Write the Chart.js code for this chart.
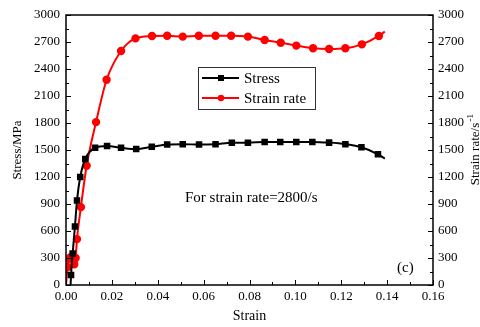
<!DOCTYPE html>
<html>
<head>
<meta charset="utf-8">
<script src="https://cdn.jsdelivr.net/npm/chart.js@4"></script>
<style>
  html, body { margin: 0; padding: 0; background: #fff; }
  #wrap { width: 480px; height: 327px; }
</style>
</head>
<body>
<div id="wrap"><canvas id="chart" width="480" height="327"></canvas></div>
<script>
// stress curve (black squares)
const stressStrain = [0.0020, 0.0022, 0.0029, 0.0039, 0.0048, 0.0062, 0.0084, 0.0127, 0.0179, 0.0240, 0.0306, 0.0374, 0.0441, 0.0509, 0.0580, 0.0652, 0.0723, 0.0793, 0.0866, 0.0934, 0.1004, 0.1074, 0.1147, 0.1218, 0.1288, 0.1360, 0.1390];
const stress = [0, 110, 350, 650, 940, 1200, 1400, 1525, 1545, 1525, 1510, 1535, 1560, 1565, 1560, 1565, 1580, 1580, 1590, 1590, 1590, 1590, 1582, 1565, 1530, 1452, 1405];

// strain rate curve (red circles)
const rateStrain = [0.0000, 0.0007, 0.0012, 0.0020, 0.0029, 0.0036, 0.0042, 0.0048, 0.0065, 0.0090, 0.0131, 0.0177, 0.0240, 0.0303, 0.0375, 0.0441, 0.0509, 0.0579, 0.0652, 0.0720, 0.0793, 0.0866, 0.0936, 0.1004, 0.1077, 0.1147, 0.1218, 0.1290, 0.1364, 0.1390];
const strainRate = [0, 200, 290, 310, 300, 230, 300, 510, 865, 1325, 1810, 2280, 2600, 2740, 2766, 2770, 2760, 2770, 2770, 2770, 2760, 2722, 2692, 2660, 2630, 2622, 2630, 2674, 2767, 2815];

const xTickLabels = ['0.00', '0.02', '0.04', '0.06', '0.08', '0.10', '0.12', '0.14', '0.16'];
const xStep = 0.02;
const yStep = 300;

const FONT = "'Liberation Serif', 'Times New Roman', serif";

function toPoints(xs, ys) {
  return xs.map((x, i) => ({x: x, y: ys[i]}));
}

// hide marker at the two ends of each curve
function endRadius(n, r) {
  return Array.from({length: n}, (_, i) => (i === 0 || i === n - 1) ? 0 : r);
}

// frame, inward ticks, x tick labels, legend box and texts
const extras = {
  id: 'extras',
  afterDraw(chart) {
    const ctx = chart.ctx;
    const a = chart.chartArea;
    const xs = chart.scales.x, yl = chart.scales.y, yr = chart.scales.y2;
    ctx.save();
    ctx.strokeStyle = '#000';
    ctx.lineWidth = 1.5;
    ctx.strokeRect(a.left, a.top, a.right - a.left, a.bottom - a.top);

    ctx.lineWidth = 1;
    ctx.beginPath();
    for (let k = 0; k <= 16; k++) {
      const px = Math.round(xs.getPixelForValue(k * xStep / 2)) + 0.5;
      ctx.moveTo(px, a.bottom);
      ctx.lineTo(px, a.bottom - (k % 2 === 0 ? 5 : 3));
    }
    for (let k = 0; k <= 20; k++) {
      const v = k * yStep / 2;
      const len = k % 2 === 0 ? 5 : 3;
      const py = Math.round(yl.getPixelForValue(v)) + 0.5;
      ctx.moveTo(a.left, py);
      ctx.lineTo(a.left + len, py);
      const pr = Math.round(yr.getPixelForValue(v)) + 0.5;
      ctx.moveTo(a.right, pr);
      ctx.lineTo(a.right - len, pr);
    }
    ctx.stroke();

    // x tick labels with two decimals
    ctx.fillStyle = '#000';
    ctx.font = '13px ' + FONT;
    ctx.textAlign = 'center';
    ctx.textBaseline = 'middle';
    xTickLabels.forEach((t, i) => {
      ctx.fillText(t, xs.getPixelForValue(i * xStep), a.bottom + 12);
    });

    // legend
    const lx = 198, ly = 67, lw = 117, lh = 42;
    ctx.lineWidth = 1;
    ctx.strokeStyle = '#333';
    ctx.strokeRect(lx + 0.5, ly + 0.5, lw, lh);
    chart.data.datasets.forEach((ds, i) => {
      const cy = ly + 11 + i * 20;
      ctx.strokeStyle = ds.borderColor;
      ctx.lineWidth = 2;
      ctx.beginPath();
      ctx.moveTo(lx + 4, cy);
      ctx.lineTo(lx + 41, cy);
      ctx.stroke();
      ctx.fillStyle = ds.borderColor;
      if (ds.pointStyle === 'rect') {
        ctx.fillRect(lx + 20, cy - 3, 6, 6);
      } else {
        ctx.beginPath();
        ctx.arc(lx + 23, cy, 3.2, 0, Math.PI * 2);
        ctx.fill();
      }
      ctx.fillStyle = '#000';
      ctx.font = '15px ' + FONT;
      ctx.textBaseline = 'middle';
      ctx.textAlign = 'left';
      ctx.fillText(ds.label, lx + 46, cy + 1);
    });

    ctx.fillStyle = '#000';
    ctx.font = '15px ' + FONT;
    ctx.textAlign = 'left';
    ctx.textBaseline = 'middle';
    ctx.fillText('For strain rate=2800/s', 185, 198);
    ctx.fillText('(c)', 397, 268);

    // right axis title, reading bottom to top
    ctx.save();
    ctx.translate(476, 150);
    ctx.rotate(-Math.PI / 2);
    ctx.font = '13px ' + FONT;
    ctx.textAlign = 'center';
    ctx.textBaseline = 'middle';
    ctx.fillText('Strain rate/s', -4, 0);
    const w = ctx.measureText('Strain rate/s').width;
    ctx.font = '9px ' + FONT;
    ctx.fillText('-1', -4 + w / 2 + 5, -5);
    ctx.restore();
    ctx.restore();
  }
};

const tickFont = {family: FONT, size: 13};

new Chart(document.getElementById('chart'), {
  type: 'scatter',
  data: {
    datasets: [
      {
        label: 'Stress',
        data: toPoints(stressStrain, stress),
        showLine: true,
        borderColor: '#000000',
        backgroundColor: '#000000',
        borderWidth: 2,
        pointStyle: 'rect',
        pointRadius: endRadius(stress.length, 3.2),
        cubicInterpolationMode: 'monotone',
        yAxisID: 'y'
      },
      {
        label: 'Strain rate',
        data: toPoints(rateStrain, strainRate),
        showLine: true,
        borderColor: '#ff0000',
        backgroundColor: '#ff0000',
        borderWidth: 2,
        pointStyle: 'circle',
        pointRadius: endRadius(strainRate.length, 3.2),
        cubicInterpolationMode: 'monotone',
        yAxisID: 'y2'
      }
    ]
  },
  options: {
    responsive: false,
    animation: false,
    events: [],
    layout: { padding: { top: 15, left: 10, right: 0, bottom: 0 } },
    plugins: {
      legend: { display: false },
      tooltip: { enabled: false }
    },
    scales: {
      x: {
        type: 'linear',
        min: 0,
        max: 0.16,
        afterFit(s) { s.height = 42; },
        ticks: { display: false, stepSize: xStep },
        grid: { display: false, drawTicks: false },
        border: { display: false },
        title: { display: true, text: 'Strain', font: {family: FONT, size: 14}, color: '#000', padding: {top: 3, bottom: 2} }
      },
      y: {
        position: 'left',
        min: 0,
        max: 3000,
        afterFit(s) { s.width = 56; },
        ticks: { stepSize: yStep, font: tickFont, color: '#000', padding: 6, callback: (v) => String(v) },
        grid: { display: false, drawTicks: false },
        border: { display: false },
        title: { display: true, text: 'Stress/MPa', font: {family: FONT, size: 13}, color: '#000', padding: 0 }
      },
      y2: {
        position: 'right',
        min: 0,
        max: 3000,
        afterFit(s) { s.width = 47; },
        ticks: { stepSize: yStep, font: tickFont, color: '#000', padding: 5, callback: (v) => String(v) },
        grid: { display: false, drawTicks: false },
        border: { display: false }
      }
    }
  },
  plugins: [extras]
});
</script>
</body>
</html>
